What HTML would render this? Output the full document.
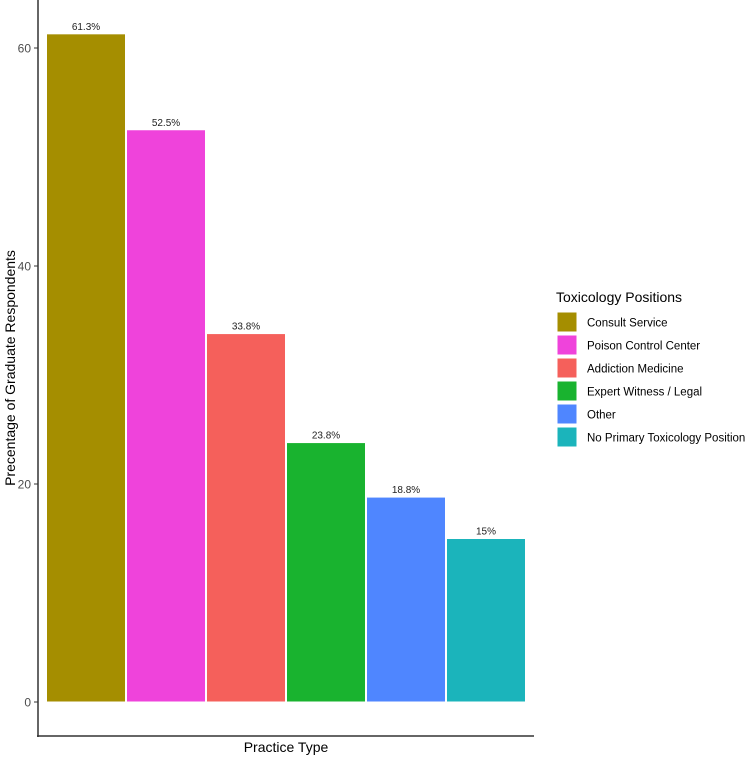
<!DOCTYPE html>
<html><head><meta charset="utf-8"><style>body{margin:0;background:#fff}svg{display:block;font-family:"Liberation Sans",sans-serif}</style></head>
<body>
<svg id="c" width="749" height="758" xmlns="http://www.w3.org/2000/svg"></svg>
<script>
const categories=["Consult Service","Poison Control Center","Addiction Medicine","Expert Witness / Legal","Other","No Primary Toxicology Position"];
const values=[61.3,52.5,33.8,23.8,18.8,15];
const valueLabels=["61.3%","52.5%","33.8%","23.8%","18.8%","15%"];
const colors=["#A58E00","#EF43DB","#F5605B","#19B32F","#4F86FF","#1BB4BB"];
const yTicks=[0,20,40,60];
const svg=document.getElementById('c');const NS="http://www.w3.org/2000/svg";
function mk(t,a,p){const e=document.createElementNS(NS,t);for(const k in a)e.setAttribute(k,a[k]);(p||svg).appendChild(e);return e;}
const y=v=>702-v*10.9;const x0=46,bw=80;const x=i=>x0+i*bw;
categories.forEach((c,i)=>{
 const r=mk('rect',{x:x(i)+0.5,y:y(values[i]),width:bw-1,height:y(0)-y(values[i]),fill:colors[i],stroke:'#fff','stroke-width':1});
 
 
 const t=mk('text',{x:x(i)+bw/2,y:y(values[i])-4,'text-anchor':'middle','font-size':10,fill:'#222'});t.textContent=valueLabels[i];
 
 
});
const ax=mk('line',{x1:38,y1:0,x2:38,y2:737,stroke:'#333','stroke-width':1.5});


const bx=mk('line',{x1:37,y1:736,x2:534,y2:736,stroke:'#333','stroke-width':1.5});


yTicks.forEach(v=>{
 mk('line',{x1:34,y1:y(v),x2:38,y2:y(v),stroke:'#333'});
 const t=mk('text',{x:31,y:y(v)+4.5,'text-anchor':'end','font-size':12,fill:'#4d4d4d'});t.textContent=v;
 
 
});
const xt=mk('text',{x:286,y:752,'text-anchor':'middle','font-size':14,fill:'#000'});xt.textContent='Practice Type';


const yt=mk('text',{x:0,y:0,'text-anchor':'middle','font-size':14,fill:'#000',transform:'translate(15,368) rotate(-90)'});yt.textContent='Precentage of Graduate Respondents';


const lt=mk('text',{x:556,y:302,'font-size':14,fill:'#000'});lt.textContent='Toxicology Positions';


categories.forEach((c,i)=>{
 const yy=312+i*23;
 const g=mk('g',{});
 
 
 mk('rect',{x:557,y:yy,width:20,height:20,fill:colors[i],stroke:'#fff'},g);
 const t=mk('text',{x:587,y:yy+14.5,'font-size':11.5,fill:'#000'},g);t.textContent=c;
});
</script>
</body></html>
